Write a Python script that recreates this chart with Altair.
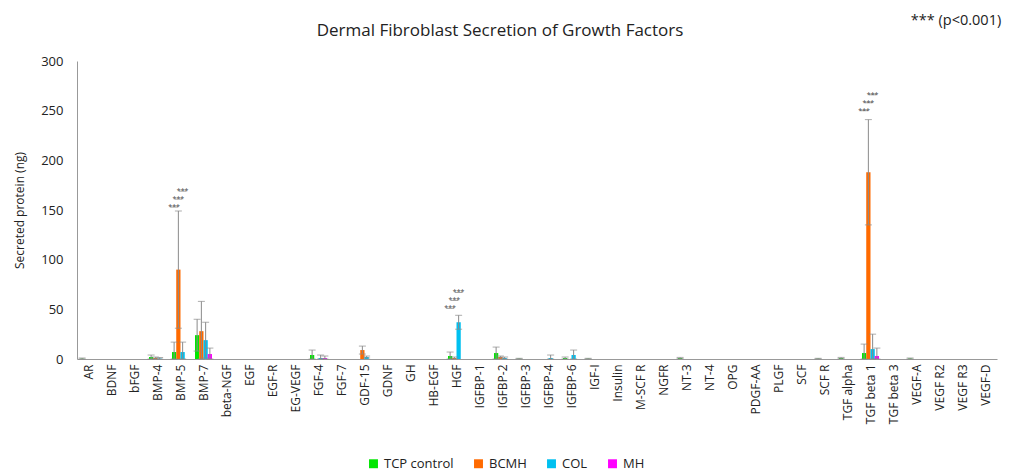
import altair as alt
import pandas as pd

categories = ["AR", "BDNF", "bFGF", "BMP-4", "BMP-5", "BMP-7", "beta-NGF", "EGF", "EGF-R", "EG-VEGF",
              "FGF-4", "FGF-7", "GDF-15", "GDNF", "GH", "HB-EGF", "HGF", "IGFBP-1", "IGFBP-2", "IGFBP-3",
              "IGFBP-4", "IGFBP-6", "IGF-I", "Insulin", "M-SCF R", "NGFR", "NT-3", "NT-4", "OPG", "PDGF-AA",
              "PLGF", "SCF", "SCF R", "TGF alpha", "TGF beta 1", "TGF beta 3", "VEGF-A", "VEGF R2", "VEGF R3", "VEGF-D"]
series = ["TCP control", "BCMH", "COL", "MH"]
colors = ["#00E600", "#FF6A00", "#00C0F0", "#FF00FF"]

tcp = [0.3, 0, 0, 2, 7, 24, 0, 0, 0, 0, 4, 0, 0, 0, 0, 0, 3, 0, 6, 0.3,
       0, 1, 0.3, 0, 0, 0, 1, 0, 0, 0, 0, 0, 0.3, 1, 6, 0, 0.5, 0, 0, 0]
tcp_err = [0.7, 0, 0, 2, 10, 16, 0, 0, 0, 0, 5, 0, 0, 0, 0, 0, 4, 0, 6, 0.4,
           0, 1, 0.4, 0, 0, 0, 0.6, 0, 0, 0, 0, 0, 0.4, 0.6, 9, 0, 0.5, 0, 0, 0]
bcmh = [0, 0, 0, 1, 90, 28, 0, 0, 0, 0, 0, 0, 9, 0, 0, 0, 1, 0, 2, 0,
        0, 0, 0, 0, 0, 0, 0, 0, 0, 0, 0, 0, 0, 0, 188, 0, 0, 0, 0, 0]
bcmh_err = [0, 0, 0, 1, 59, 30, 0, 0, 0, 0, 0, 0, 4, 0, 0, 0, 1, 0, 1, 0,
            0, 0, 0, 0, 0, 0, 0, 0, 0, 0, 0, 0, 0, 0, 53, 0, 0, 0, 0, 0]
col = [0, 0, 0, 0.5, 7, 19, 0, 0, 0, 0, 1, 0, 2, 0, 0, 0, 37, 0, 1, 0,
       1, 4, 0, 0, 0, 0, 0, 0, 0, 0, 0, 0, 0, 0, 10, 0, 0, 0, 0, 0]
col_err = [0, 0, 0, 1, 10, 18, 0, 0, 0, 0, 3, 0, 1, 0, 0, 0, 7, 0, 1, 0,
           3, 5, 0, 0, 0, 0, 0, 0, 0, 0, 0, 0, 0, 0, 15, 0, 0, 0, 0, 0]
mh = [0, 0, 0, 0, 0, 5, 0, 0, 0, 0, 1, 0, 0, 0, 0, 0, 0, 0, 0, 0,
      0, 0, 0, 0, 0, 0, 0, 0, 0, 0, 0, 0, 0, 0, 3, 0, 0, 0, 0, 0]
mh_err = [0, 0, 0, 0, 0, 6, 0, 0, 0, 0, 2, 0, 0, 0, 0, 0, 0, 0, 0, 0,
          0, 0, 0, 0, 0, 0, 0, 0, 0, 0, 0, 0, 0, 0, 8, 0, 0, 0, 0, 0]

# significance marks: category, series used for offset, height
star_cat = ["BMP-5", "BMP-5", "BMP-5", "HGF", "HGF", "HGF", "TGF beta 1", "TGF beta 1", "TGF beta 1"]
star_ser = ["TCP control", "BCMH", "COL", "TCP control", "BCMH", "COL", "TCP control", "BCMH", "COL"]
star_y = [153, 161, 169, 51, 59, 67, 250, 258, 266]

title_text = "Dermal Fibroblast Secretion of Growth Factors"
note_text = "*** (p<0.001)"

rows = []
for s, vals, errs in zip(series, [tcp, bcmh, col, mh], [tcp_err, bcmh_err, col_err, mh_err]):
    for c, v, e in zip(categories, vals, errs):
        rows.append({"cat": c, "series": s, "value": v, "err": e,
                     "lo": max(v - e, 0), "hi": v + e})
df = pd.DataFrame(rows)
err_df = df[df["err"] > 0]
stars = pd.DataFrame({"cat": star_cat, "series": star_ser, "y": star_y, "t": ["***"] * len(star_y)})

FONT = "Open Sans"
xenc = alt.X("cat:N", sort=categories, scale=alt.Scale(domain=categories, paddingInner=0.26, paddingOuter=0.13),
             axis=alt.Axis(title=None, labelAngle=270, labelFontSize=12, labelColor="#222", ticks=False,
                           domainColor="#999", labelPadding=5, labelFont=FONT))
xoff = alt.XOffset("series:N", sort=series, scale=alt.Scale(domain=series, paddingInner=0))

bars = alt.Chart(df).mark_bar().encode(
    x=xenc, xOffset=xoff,
    y=alt.Y("value:Q", scale=alt.Scale(domain=[0, 300]),
            axis=alt.Axis(title="Secreted protein (ng)", values=[0, 50, 100, 150, 200, 250, 300], grid=False,
                          ticks=False, labelPadding=14, labelFontSize=13, titleFontSize=12, titleFontWeight="normal",
                          titleColor="#222", labelColor="#222", domainColor="#999", titlePadding=14,
                          labelFont=FONT, titleFont=FONT)),
    color=alt.Color("series:N", sort=series, scale=alt.Scale(domain=series, range=colors),
                    legend=alt.Legend(title=None, orient="none", legendX=290, legendY=396, direction="horizontal",
                                      symbolType="square", symbolSize=80, labelFontSize=13, labelFont=FONT,
                                      labelColor="#222", symbolStrokeWidth=0, columnPadding=18)),
)

rules = alt.Chart(err_df).mark_rule(color="#8a8a8a", strokeWidth=1).encode(
    x=alt.X("cat:N", sort=categories), xOffset=xoff, y="lo:Q", y2="hi:Q")
cap_hi = alt.Chart(err_df).mark_tick(color="#8a8a8a", thickness=1, size=7).encode(
    x=alt.X("cat:N", sort=categories), xOffset=xoff, y="hi:Q")
cap_lo = alt.Chart(err_df).mark_tick(color="#8a8a8a", thickness=1, size=7).encode(
    x=alt.X("cat:N", sort=categories), xOffset=xoff, y="lo:Q")

star_txt = alt.Chart(stars).mark_text(fontSize=7, color="#444", baseline="alphabetic", dy=2, font=FONT).encode(
    x=alt.X("cat:N", sort=categories), xOffset=xoff, y="y:Q", text="t:N")
star_line = alt.Chart(stars).mark_tick(color="#777", thickness=1, size=8).encode(
    x=alt.X("cat:N", sort=categories), xOffset=xoff, y="y:Q")

title = alt.Chart(pd.DataFrame({"t": [title_text]})).mark_text(
    fontSize=17, font=FONT, color="#222", align="center", baseline="middle").encode(
    x=alt.value(423), y=alt.value(-30), text="t:N")
note = alt.Chart(pd.DataFrame({"t": [note_text]})).mark_text(
    fontSize=14.5, font=FONT, color="#222", align="center", baseline="middle").encode(
    x=alt.value(879), y=alt.value(-40), text="t:N")

chart = alt.layer(bars, rules, cap_hi, cap_lo, star_line, star_txt, title, note).properties(
    width=920, height=298, padding={"left": 5, "top": 5, "right": 5, "bottom": 0},
).configure_view(stroke=None).configure_axis(labelFont=FONT, titleFont=FONT)

chart.save("out.html", embed_options={"renderer": "svg", "actions": False})
